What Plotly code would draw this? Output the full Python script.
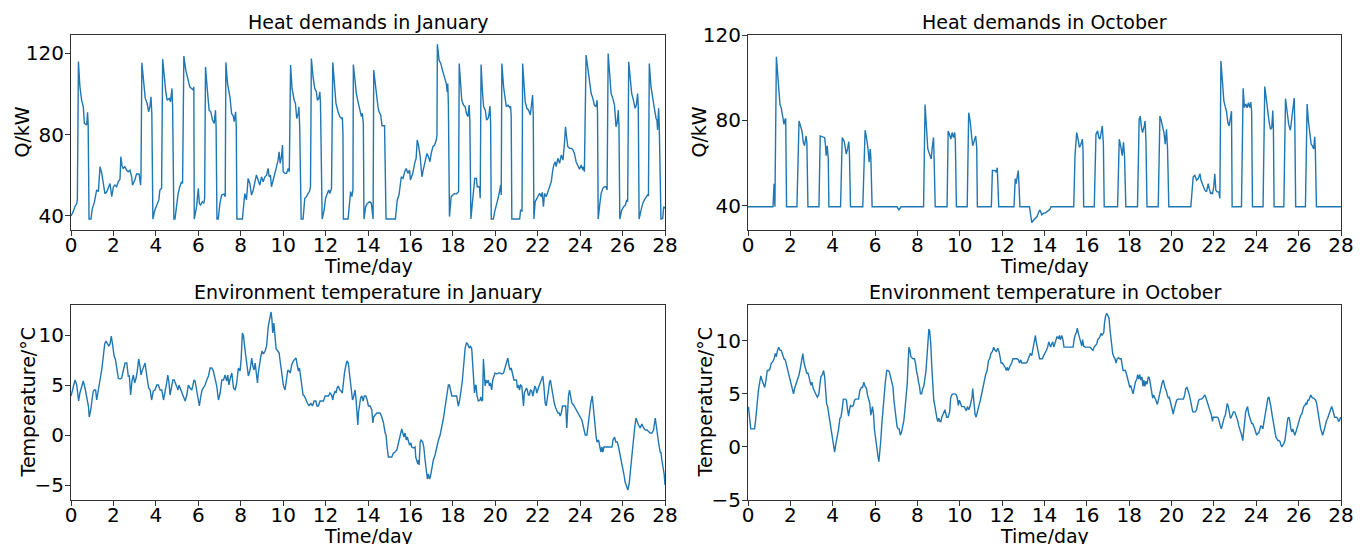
import plotly.graph_objects as go

# ---------------- data (time in days, values) ----------------
jan_heat = [(0.0, 40), (0.1, 42), (0.2, 45), (0.27, 46), (0.3, 48), (0.35, 116), (0.42, 103.6), (0.5, 97), (0.58, 93.8), (0.63, 85.6), (0.74, 84.8), (0.78, 91), (0.81, 84.8), (0.85, 38.5), (0.94, 38.5), (1.0, 43.4), (1.1, 46.7), (1.21, 52.8), (1.29, 52), (1.37, 64.3), (1.45, 61), (1.52, 56.9), (1.6, 51), (1.68, 51.8), (1.76, 54.4), (1.84, 56), (1.92, 49.5), (2.0, 54.4), (2.07, 55.2), (2.15, 54.4), (2.23, 56.9), (2.31, 58.2), (2.35, 69.2), (2.4, 65), (2.46, 63.4), (2.54, 64.3), (2.62, 62.6), (2.7, 61.8), (2.78, 62.6), (2.86, 59.3), (2.9, 55.2), (3.01, 57.7), (3.09, 60.7), (3.21, 60.7), (3.28, 55.2), (3.3, 60.2), (3.34, 115.4), (3.44, 105), (3.5, 97.9), (3.59, 95.4), (3.66, 91.3), (3.72, 93.8), (3.77, 98.7), (3.81, 90.5), (3.86, 38.5), (3.95, 42.8), (4.03, 45.4), (4.14, 47.9), (4.19, 52.8), (4.27, 53.6), (4.32, 117.2), (4.39, 108.5), (4.47, 101), (4.53, 97), (4.63, 97.9), (4.69, 96.2), (4.76, 102.8), (4.79, 93.8), (4.85, 38.5), (4.9, 38.5), (4.98, 46.2), (5.05, 51), (5.13, 54.4), (5.21, 56.9), (5.26, 56), (5.32, 118.7), (5.41, 111.8), (5.53, 106), (5.6, 103.6), (5.68, 102.8), (5.76, 102), (5.79, 103.6), (5.81, 38.5), (5.92, 44.6), (6.0, 53.6), (6.05, 46.2), (6.11, 45.4), (6.19, 47), (6.26, 46.2), (6.3, 48.7), (6.34, 113.4), (6.42, 102.8), (6.51, 92), (6.59, 91.3), (6.67, 87.2), (6.75, 85.6), (6.81, 92.1), (6.84, 84), (6.88, 38.5), (6.94, 38.5), (7.02, 46.2), (7.1, 50.3), (7.21, 50.8), (7.27, 49.5), (7.3, 115.6), (7.38, 105), (7.49, 98.7), (7.57, 90.5), (7.65, 89.2), (7.69, 86.4), (7.76, 91.3), (7.79, 84), (7.82, 38.5), (8.08, 38.5), (8.19, 51.1), (8.27, 47.9), (8.35, 58.5), (8.43, 56), (8.51, 50.3), (8.59, 52.8), (8.67, 56.1), (8.74, 60.2), (8.82, 57.7), (8.9, 55.2), (8.98, 59.3), (9.06, 56.9), (9.14, 59.3), (9.22, 60.1), (9.29, 63.4), (9.34, 59.3), (9.4, 60.1), (9.45, 54.4), (9.53, 57.7), (9.61, 61.8), (9.69, 64.3), (9.76, 67.5), (9.81, 71.6), (9.86, 65.9), (9.92, 69.2), (9.97, 74.9), (10.0, 61.8), (10.08, 61), (10.16, 61), (10.24, 63.4), (10.29, 61.8), (10.35, 114.3), (10.42, 102.8), (10.52, 97), (10.58, 95.4), (10.64, 88), (10.71, 90.5), (10.74, 93.8), (10.78, 84), (10.85, 38.5), (10.94, 38.5), (11.02, 48.7), (11.1, 49.5), (11.18, 51.1), (11.25, 52.3), (11.29, 54.4), (11.33, 117.5), (11.41, 108.5), (11.49, 102.8), (11.57, 101.1), (11.61, 97), (11.68, 97.9), (11.73, 101.1), (11.76, 95.4), (11.84, 38.5), (11.93, 42.8), (12.0, 48.7), (12.08, 51.1), (12.15, 52.8), (12.2, 51.1), (12.24, 52.8), (12.28, 53.6), (12.34, 115.6), (12.42, 102), (12.49, 95.4), (12.59, 91.3), (12.67, 88.9), (12.75, 88), (12.79, 88.5), (12.82, 80.7), (12.84, 38.5), (13.06, 38.5), (13.14, 47.9), (13.18, 52), (13.24, 49.5), (13.29, 52.8), (13.31, 114.6), (13.37, 106.9), (13.45, 100.3), (13.53, 96.2), (13.61, 92.1), (13.69, 88.9), (13.73, 90.5), (13.78, 85.6), (13.81, 38.5), (13.89, 44.6), (13.97, 46.2), (14.08, 47), (14.16, 46.2), (14.24, 38.5), (14.27, 111.8), (14.35, 103.6), (14.42, 95.4), (14.47, 93.8), (14.52, 91.3), (14.6, 89.7), (14.66, 84.4), (14.78, 84.4), (14.85, 38.5), (15.29, 38.5), (15.38, 47.9), (15.46, 50.3), (15.57, 59.3), (15.65, 58.5), (15.73, 61.8), (15.8, 63.4), (15.88, 61), (15.96, 62.6), (16.0, 57.7), (16.11, 61), (16.2, 65.9), (16.27, 68.4), (16.32, 77.4), (16.38, 74.9), (16.46, 69.2), (16.54, 59.3), (16.62, 63.4), (16.7, 67.5), (16.78, 70.8), (16.85, 69.2), (16.92, 66.7), (16.98, 70.8), (17.06, 74.1), (17.14, 74.9), (17.22, 77.4), (17.25, 79.8), (17.27, 124.6), (17.35, 116.7), (17.43, 115.1), (17.51, 111.8), (17.61, 108.5), (17.69, 105.2), (17.73, 101.1), (17.76, 105.2), (17.79, 94.6), (17.84, 39.7), (17.92, 49.5), (18.0, 50.3), (18.08, 51.1), (18.16, 50.8), (18.24, 51.6), (18.27, 52), (18.3, 115.1), (18.36, 106.9), (18.42, 97), (18.5, 94.6), (18.58, 93.8), (18.64, 90.5), (18.71, 88.9), (18.77, 94.6), (18.8, 87.2), (18.85, 38.5), (18.92, 45.4), (18.98, 52.8), (19.03, 58.5), (19.11, 58.5), (19.15, 54.4), (19.23, 54.4), (19.26, 53.6), (19.29, 48.7), (19.33, 114.6), (19.39, 102), (19.45, 93.8), (19.53, 92.1), (19.59, 87.2), (19.66, 88), (19.7, 89.7), (19.75, 94.1), (19.78, 85.6), (19.81, 38.5), (19.91, 38.5), (19.97, 42), (20.05, 46.2), (20.13, 48.7), (20.2, 52), (20.25, 55.2), (20.28, 50.3), (20.31, 115.1), (20.39, 103.6), (20.47, 97), (20.52, 93.8), (20.6, 94.6), (20.68, 93.4), (20.72, 94.1), (20.75, 88.9), (20.78, 38.5), (21.15, 38.5), (21.19, 42.8), (21.26, 42.5), (21.29, 115.1), (21.35, 102), (21.41, 96.2), (21.49, 93), (21.57, 92.1), (21.65, 89.7), (21.7, 93.8), (21.76, 99.5), (21.79, 88.9), (21.82, 38.5), (21.88, 47), (21.98, 48.7), (22.09, 51.1), (22.17, 49.5), (22.21, 51.6), (22.27, 44.6), (22.32, 51.1), (22.4, 49.5), (22.48, 52), (22.56, 54.4), (22.64, 56.9), (22.71, 62.6), (22.76, 65.1), (22.83, 66.7), (22.87, 64.3), (22.95, 68.4), (23.03, 65.9), (23.11, 70), (23.19, 67.5), (23.26, 75.7), (23.31, 83.9), (23.37, 78.1), (23.42, 74.1), (23.5, 73.3), (23.58, 73.3), (23.65, 72.8), (23.73, 70.8), (23.81, 66.7), (23.89, 64.3), (23.97, 63), (24.05, 65.1), (24.13, 62.6), (24.17, 64.3), (24.2, 61.8), (24.28, 119.2), (24.36, 111.8), (24.44, 105.2), (24.52, 100.3), (24.6, 97.9), (24.67, 94.6), (24.75, 93.8), (24.8, 97), (24.82, 90.5), (24.85, 38.5), (24.93, 46.2), (24.99, 51.1), (25.07, 53.6), (25.15, 54.4), (25.23, 54.4), (25.27, 52.8), (25.32, 120), (25.4, 108.5), (25.46, 100.3), (25.54, 97.9), (25.62, 94.6), (25.69, 83.9), (25.74, 85.6), (25.8, 92.1), (25.83, 83.9), (25.87, 38.5), (25.96, 42.8), (26.05, 44.6), (26.13, 45.4), (26.2, 47.9), (26.24, 47), (26.29, 115.9), (26.35, 106.9), (26.43, 100.3), (26.51, 97), (26.59, 93), (26.65, 94.6), (26.71, 100.3), (26.74, 93.8), (26.78, 38.5), (26.87, 42.8), (26.95, 46.2), (27.03, 47.9), (27.11, 49.5), (27.17, 50.3), (27.22, 49.8), (27.26, 115.1), (27.34, 103.6), (27.42, 97), (27.5, 93), (27.58, 88), (27.62, 87.2), (27.65, 82.3), (27.7, 93), (27.73, 84), (27.81, 38.5), (27.89, 38.8), (27.94, 44.6), (28.0, 43.8)]

oct_heat = [(0, 39.5), (1.18, 39.5), (1.23, 50.3), (1.27, 39.5), (1.34, 109.8), (1.38, 103.6), (1.45, 95.1), (1.51, 87.4), (1.57, 85.9), (1.65, 81.2), (1.7, 78.1), (1.75, 80.5), (1.78, 80.9), (1.82, 39.5), (2.31, 39.5), (2.41, 79.7), (2.48, 77.4), (2.55, 75), (2.61, 69.7), (2.67, 68.1), (2.74, 72.7), (2.78, 69.7), (2.83, 39.5), (3.35, 39.5), (3.41, 72.7), (3.54, 72.2), (3.62, 71.9), (3.66, 68.1), (3.69, 63.5), (3.74, 68.1), (3.79, 61.9), (3.82, 39.5), (4.37, 39.5), (4.45, 72), (4.53, 70.5), (4.58, 68.1), (4.64, 64.2), (4.7, 66.6), (4.76, 70), (4.79, 64.2), (4.84, 39.5), (5.42, 39.5), (5.53, 75.4), (5.58, 72.7), (5.66, 67.3), (5.72, 60.4), (5.77, 66.6), (5.8, 62.8), (5.86, 39.5), (7.04, 39.5), (7.12, 38), (7.23, 39.5), (8.29, 39.5), (8.36, 87.4), (8.41, 80.5), (8.49, 66.6), (8.57, 64.2), (8.65, 61.9), (8.7, 67.3), (8.76, 72), (8.79, 61.2), (8.84, 39.5), (9.4, 39.5), (9.45, 75), (9.51, 73.5), (9.58, 71.2), (9.64, 74.3), (9.7, 72), (9.76, 74.3), (9.79, 70.4), (9.84, 39.5), (10.35, 39.5), (10.42, 83.6), (10.49, 79.7), (10.55, 73.5), (10.61, 68.1), (10.68, 70.4), (10.75, 72.7), (10.8, 67.3), (10.83, 39.5), (11.49, 39.5), (11.54, 56.5), (11.66, 56.5), (11.73, 55.7), (11.77, 57.8), (11.8, 50.3), (11.84, 39.5), (12.56, 39.5), (12.62, 52.7), (12.66, 50.3), (12.71, 53.4), (12.76, 56.5), (12.8, 48.8), (12.84, 39.5), (13.29, 39.5), (13.34, 35.7), (13.4, 32.1), (13.49, 33.3), (13.56, 34.1), (13.65, 34.9), (13.72, 36.8), (13.77, 38), (13.82, 37.2), (13.87, 35.7), (13.96, 36.5), (14.03, 36.5), (14.12, 37.2), (14.19, 38), (14.26, 38.3), (14.31, 39.5), (15.38, 39.5), (15.44, 63.5), (15.52, 74.3), (15.57, 72), (15.65, 67.3), (15.72, 68.8), (15.79, 71.2), (15.82, 65.8), (15.85, 39.5), (16.35, 39.5), (16.43, 73.5), (16.51, 75.1), (16.56, 72), (16.62, 71.2), (16.69, 74.3), (16.73, 77.4), (16.78, 68.9), (16.82, 39.5), (17.45, 39.5), (17.53, 71.2), (17.61, 67.3), (17.67, 63.5), (17.73, 69.7), (17.78, 62.8), (17.84, 39.5), (18.39, 39.5), (18.47, 80.5), (18.52, 82), (18.58, 76.6), (18.63, 74.3), (18.71, 77.4), (18.75, 79.7), (18.79, 70.4), (18.84, 39.5), (19.37, 39.5), (19.45, 82), (19.5, 80.5), (19.58, 77.4), (19.64, 74.3), (19.7, 68.9), (19.76, 75.8), (19.81, 66.6), (19.87, 39.5), (20.91, 39.5), (21.02, 53.4), (21.1, 54.2), (21.18, 51.9), (21.26, 52.7), (21.34, 55), (21.39, 51.9), (21.44, 50.3), (21.49, 48.8), (21.57, 47.3), (21.65, 46.5), (21.73, 50.3), (21.78, 48), (21.84, 45.7), (21.89, 46), (21.93, 45.4), (21.99, 48.8), (22.04, 55), (22.09, 47.3), (22.15, 46.5), (22.23, 46.5), (22.28, 43.4), (22.33, 107.8), (22.41, 99), (22.47, 89), (22.53, 86.7), (22.59, 84.3), (22.66, 78.9), (22.72, 77.4), (22.78, 81.2), (22.83, 84.3), (22.86, 39.5), (23.3, 39.5), (23.38, 95.1), (23.44, 86), (23.51, 87.7), (23.57, 85.9), (23.63, 88.3), (23.69, 86), (23.74, 88.6), (23.78, 84.3), (23.82, 39.5), (24.32, 39.5), (24.4, 95.9), (24.48, 89), (24.54, 83.6), (24.61, 79), (24.67, 75.8), (24.73, 76.6), (24.78, 84.6), (24.81, 75.1), (24.84, 39.5), (25.3, 39.5), (25.38, 90.2), (25.46, 84.3), (25.53, 78.1), (25.61, 75.4), (25.68, 80.5), (25.74, 85.9), (25.79, 90.5), (25.82, 78.1), (25.86, 39.5), (26.32, 39.5), (26.4, 87.7), (26.46, 79.7), (26.53, 72), (26.59, 68.9), (26.65, 68.1), (26.71, 66.6), (26.76, 72.3), (26.79, 65.8), (26.84, 39.5), (28, 39.5)]

jan_temp = [(0.0, 3.9), (0.11, 4.7), (0.19, 5.5), (0.27, 5.0), (0.31, 4.2), (0.36, 3.4), (0.42, 4.2), (0.5, 4.8), (0.58, 5.4), (0.66, 4.7), (0.71, 4.0), (0.77, 3.5), (0.82, 2.9), (0.86, 1.8), (0.93, 2.5), (0.99, 3.5), (1.05, 4.4), (1.1, 4.5), (1.16, 4.5), (1.21, 3.5), (1.27, 4.4), (1.34, 5.0), (1.4, 5.9), (1.46, 6.7), (1.53, 7.9), (1.59, 9.1), (1.65, 9.4), (1.71, 9.2), (1.78, 8.9), (1.84, 9.1), (1.9, 9.9), (1.97, 8.9), (2.03, 7.9), (2.09, 7.6), (2.15, 6.7), (2.23, 5.7), (2.31, 5.6), (2.39, 5.7), (2.47, 6.5), (2.55, 7.2), (2.63, 7.2), (2.7, 5.9), (2.75, 5.9), (2.81, 4.0), (2.88, 5.5), (2.94, 6.0), (3.0, 5.2), (3.07, 5.7), (3.13, 6.5), (3.19, 7.6), (3.25, 6.9), (3.3, 6.0), (3.35, 6.4), (3.41, 6.7), (3.49, 7.2), (3.54, 6.4), (3.6, 5.7), (3.66, 4.7), (3.73, 4.5), (3.8, 3.5), (3.88, 4.4), (3.96, 4.5), (4.04, 5.0), (4.12, 5.0), (4.2, 4.5), (4.28, 4.5), (4.36, 3.5), (4.43, 4.2), (4.51, 5.2), (4.56, 6.0), (4.61, 5.4), (4.67, 4.0), (4.73, 4.7), (4.8, 5.5), (4.86, 5.5), (4.92, 5.2), (4.98, 5.0), (5.05, 4.5), (5.09, 5.0), (5.14, 4.7), (5.22, 4.2), (5.3, 3.9), (5.38, 3.4), (5.46, 4.0), (5.53, 5.0), (5.61, 4.7), (5.69, 4.5), (5.74, 4.9), (5.8, 5.5), (5.85, 5.4), (5.93, 4.2), (5.99, 3.7), (6.05, 2.9), (6.12, 3.9), (6.18, 4.5), (6.24, 4.7), (6.32, 5.0), (6.4, 5.5), (6.48, 5.9), (6.56, 6.7), (6.64, 6.7), (6.71, 6.4), (6.79, 5.7), (6.87, 4.9), (6.95, 3.5), (7.03, 4.2), (7.11, 5.5), (7.19, 5.5), (7.26, 6.0), (7.34, 5.4), (7.39, 6.0), (7.44, 5.0), (7.5, 5.6), (7.58, 6.2), (7.66, 4.7), (7.74, 4.5), (7.81, 5.2), (7.89, 6.7), (7.97, 6.4), (8.02, 7.6), (8.08, 10.2), (8.13, 9.9), (8.21, 8.4), (8.29, 6.9), (8.36, 5.9), (8.44, 6.5), (8.52, 7.7), (8.57, 6.9), (8.63, 6.5), (8.68, 7.2), (8.72, 6.4), (8.79, 5.2), (8.83, 6.2), (8.88, 7.2), (8.95, 7.9), (9.01, 8.4), (9.07, 8.1), (9.15, 8.4), (9.22, 8.9), (9.3, 10.9), (9.38, 11.9), (9.43, 12.3), (9.47, 11.6), (9.51, 10.2), (9.56, 11.2), (9.6, 10.2), (9.67, 8.6), (9.75, 8.4), (9.81, 8.2), (9.87, 7.2), (9.93, 6.2), (10.01, 5.0), (10.09, 4.5), (10.15, 5.3), (10.22, 6.5), (10.28, 6.4), (10.34, 6.2), (10.4, 7.0), (10.48, 7.4), (10.56, 7.6), (10.61, 7.7), (10.66, 7.0), (10.72, 6.4), (10.77, 6.7), (10.81, 6.0), (10.88, 5.0), (10.94, 4.0), (11.0, 3.9), (11.07, 3.5), (11.14, 3.2), (11.22, 2.9), (11.3, 3.2), (11.38, 2.9), (11.46, 3.4), (11.54, 3.4), (11.6, 2.9), (11.66, 2.9), (11.74, 3.4), (11.82, 3.4), (11.9, 3.4), (11.98, 3.9), (12.06, 3.9), (12.14, 3.9), (12.21, 4.2), (12.29, 4.0), (12.34, 3.5), (12.38, 4.0), (12.45, 4.4), (12.5, 4.2), (12.54, 4.7), (12.6, 4.9), (12.67, 4.5), (12.73, 4.4), (12.79, 4.2), (12.84, 5.5), (12.89, 6.2), (12.95, 6.9), (13.01, 7.4), (13.07, 7.2), (13.12, 6.2), (13.17, 4.9), (13.22, 4.0), (13.27, 3.5), (13.31, 3.7), (13.39, 4.5), (13.44, 3.5), (13.47, 2.2), (13.52, 1.0), (13.55, 2.2), (13.6, 3.2), (13.65, 3.7), (13.71, 3.9), (13.77, 3.4), (13.83, 3.9), (13.9, 3.9), (13.96, 3.5), (14.02, 2.9), (14.1, 2.9), (14.18, 2.5), (14.23, 1.2), (14.27, 1.8), (14.34, 2.0), (14.42, 2.2), (14.5, 2.2), (14.57, 2.2), (14.65, 1.8), (14.73, 1.2), (14.81, 0.2), (14.85, 0.0), (14.9, -1.2), (14.96, -2.2), (15.04, -2.2), (15.12, -2.2), (15.2, -1.8), (15.28, -1.7), (15.36, -1.5), (15.44, -0.8), (15.48, -0.5), (15.53, 0.2), (15.59, 0.6), (15.64, 0.2), (15.69, -0.2), (15.75, 0.2), (15.8, -0.5), (15.85, -0.2), (15.92, -0.8), (15.96, -1.0), (16.02, -0.8), (16.06, -1.2), (16.14, -1.3), (16.22, -1.2), (16.25, -2.2), (16.3, -2.5), (16.35, -2.9), (16.38, -2.5), (16.41, -3.0), (16.46, -0.7), (16.5, -0.5), (16.58, -0.7), (16.63, -1.2), (16.69, -2.5), (16.76, -3.5), (16.8, -4.4), (16.85, -3.9), (16.9, -4.4), (16.94, -4.2), (17.0, -3.5), (17.08, -2.5), (17.16, -2.0), (17.24, -1.2), (17.32, -0.5), (17.4, 0.0), (17.48, 0.7), (17.56, 1.7), (17.64, 2.9), (17.72, 3.9), (17.79, 5.0), (17.84, 5.0), (17.89, 4.5), (17.95, 3.9), (18.03, 3.9), (18.1, 3.9), (18.18, 3.9), (18.23, 3.2), (18.26, 2.9), (18.31, 3.4), (18.36, 3.9), (18.39, 4.5), (18.45, 5.5), (18.51, 7.0), (18.58, 8.7), (18.64, 9.2), (18.7, 9.1), (18.77, 8.7), (18.83, 8.9), (18.89, 8.6), (18.97, 5.9), (19.02, 4.2), (19.06, 4.9), (19.09, 5.0), (19.14, 3.9), (19.2, 3.4), (19.28, 3.5), (19.32, 3.8), (19.36, 3.4), (19.4, 3.5), (19.44, 7.6), (19.47, 6.2), (19.52, 4.9), (19.56, 5.5), (19.61, 5.2), (19.67, 5.5), (19.72, 4.9), (19.77, 5.2), (19.83, 4.5), (19.88, 5.5), (19.94, 6.0), (19.99, 6.2), (20.07, 6.1), (20.15, 6.2), (20.23, 6.2), (20.31, 6.1), (20.39, 6.2), (20.43, 6.5), (20.5, 7.2), (20.56, 7.6), (20.59, 7.7), (20.65, 6.9), (20.7, 6.5), (20.75, 6.7), (20.81, 6.0), (20.88, 5.5), (20.94, 5.5), (21.0, 5.5), (21.04, 4.7), (21.09, 5.0), (21.14, 4.5), (21.19, 5.0), (21.25, 4.9), (21.28, 4.2), (21.33, 2.9), (21.37, 4.2), (21.42, 4.5), (21.47, 4.7), (21.51, 4.5), (21.56, 4.0), (21.61, 4.0), (21.66, 4.5), (21.72, 4.4), (21.77, 3.9), (21.82, 4.4), (21.86, 4.9), (21.91, 4.7), (21.96, 4.2), (22.03, 4.7), (22.11, 5.2), (22.19, 5.7), (22.24, 5.9), (22.29, 4.9), (22.35, 3.2), (22.4, 2.9), (22.45, 3.5), (22.51, 4.5), (22.55, 5.2), (22.6, 5.5), (22.66, 4.7), (22.74, 3.5), (22.78, 3.2), (22.85, 2.7), (22.9, 2.5), (22.95, 2.2), (23.01, 2.2), (23.06, 1.9), (23.11, 2.2), (23.17, 2.9), (23.25, 2.9), (23.32, 2.9), (23.37, 0.7), (23.4, 2.5), (23.45, 3.9), (23.5, 4.5), (23.55, 3.9), (23.61, 3.2), (23.69, 3.0), (23.76, 2.7), (23.84, 2.4), (23.92, 2.0), (24.0, 1.8), (24.08, 1.5), (24.16, 0.8), (24.24, 0.0), (24.32, 0.0), (24.39, 1.2), (24.44, 2.5), (24.5, 3.2), (24.57, 3.9), (24.6, 3.2), (24.65, 1.8), (24.71, 0.7), (24.76, -0.3), (24.8, -0.7), (24.87, -0.5), (24.93, -1.2), (24.98, -1.7), (25.02, -1.2), (25.07, -1.7), (25.12, -1.2), (25.2, -1.2), (25.28, -1.2), (25.36, -1.2), (25.44, -1.2), (25.5, -1.2), (25.55, -0.5), (25.62, -0.2), (25.68, -0.7), (25.75, -0.7), (25.81, -1.2), (25.87, -1.8), (25.93, -2.5), (25.99, -3.0), (26.06, -3.9), (26.12, -4.7), (26.19, -5.2), (26.25, -5.5), (26.31, -4.9), (26.37, -3.4), (26.44, -2.2), (26.5, -0.8), (26.56, 0.5), (26.63, 1.7), (26.69, 1.3), (26.75, 1.0), (26.83, 0.7), (26.91, 1.1), (26.99, 0.7), (27.07, 0.5), (27.15, 0.5), (27.22, 0.4), (27.3, 0.2), (27.38, 0.2), (27.46, 0.5), (27.54, 1.7), (27.59, 0.8), (27.65, -0.2), (27.7, -0.8), (27.78, -1.8), (27.81, -1.7), (27.85, -2.5), (27.9, -3.2), (27.96, -3.9), (28.0, -5.0)]

oct_temp = [(0.02, 3.8), (0.06, 2.8), (0.13, 1.7), (0.2, 1.7), (0.25, 1.7), (0.31, 1.7), (0.36, 2.5), (0.41, 3.8), (0.49, 5.3), (0.57, 6.3), (0.61, 6.7), (0.66, 6.3), (0.72, 6.0), (0.79, 5.6), (0.85, 6.3), (0.91, 7.2), (0.98, 7.2), (1.04, 7.4), (1.1, 7.9), (1.16, 8.0), (1.23, 8.3), (1.29, 8.8), (1.34, 8.5), (1.38, 9.0), (1.45, 9.4), (1.51, 9.1), (1.57, 9.1), (1.64, 8.6), (1.7, 8.3), (1.76, 8.2), (1.82, 7.7), (1.89, 7.2), (1.95, 6.9), (2.01, 6.4), (2.06, 5.8), (2.11, 5.5), (2.15, 5.0), (2.2, 5.5), (2.25, 5.8), (2.3, 6.0), (2.36, 6.3), (2.41, 6.8), (2.45, 7.2), (2.5, 7.7), (2.55, 8.2), (2.59, 8.8), (2.64, 8.0), (2.69, 7.4), (2.74, 7.2), (2.78, 6.9), (2.83, 7.0), (2.88, 6.6), (2.92, 6.1), (2.97, 5.8), (3.02, 6.1), (3.08, 5.5), (3.15, 5.2), (3.21, 5.0), (3.27, 4.7), (3.34, 4.9), (3.4, 5.7), (3.44, 6.6), (3.51, 6.8), (3.57, 7.2), (3.62, 6.6), (3.66, 5.0), (3.71, 4.1), (3.76, 3.8), (3.81, 3.1), (3.87, 2.5), (3.93, 1.6), (3.99, 0.8), (4.04, 0.3), (4.09, -0.5), (4.15, 0.3), (4.21, 0.9), (4.28, 1.7), (4.34, 2.7), (4.39, 2.8), (4.45, 3.6), (4.5, 4.5), (4.58, 4.5), (4.65, 4.4), (4.7, 3.5), (4.75, 2.9), (4.79, 3.5), (4.84, 3.9), (4.91, 3.8), (4.97, 3.9), (5.03, 4.4), (5.09, 4.5), (5.16, 4.5), (5.22, 4.5), (5.28, 5.3), (5.35, 5.6), (5.41, 5.6), (5.47, 6.1), (5.53, 5.7), (5.6, 5.5), (5.64, 4.9), (5.69, 4.5), (5.75, 4.1), (5.8, 3.0), (5.85, 3.5), (5.88, 3.8), (5.93, 3.0), (5.97, 1.6), (6.04, 0.6), (6.09, -0.5), (6.13, -0.8), (6.18, -1.4), (6.23, -0.6), (6.27, 0.6), (6.32, 2.2), (6.37, 3.5), (6.42, 4.7), (6.48, 6.0), (6.55, 7.2), (6.61, 7.2), (6.67, 7.1), (6.73, 6.6), (6.79, 6.3), (6.84, 5.7), (6.89, 4.4), (6.94, 3.5), (6.99, 2.5), (7.04, 1.9), (7.09, 1.7), (7.14, 1.7), (7.19, 1.1), (7.25, 1.4), (7.31, 2.0), (7.36, 2.5), (7.41, 3.5), (7.45, 4.4), (7.52, 6.0), (7.57, 8.3), (7.6, 9.4), (7.65, 9.1), (7.69, 8.5), (7.74, 8.4), (7.8, 8.3), (7.86, 8.3), (7.91, 7.9), (7.96, 7.1), (8.0, 6.8), (8.05, 6.1), (8.1, 5.7), (8.14, 5.0), (8.2, 5.0), (8.25, 5.5), (8.3, 5.7), (8.35, 6.4), (8.4, 7.1), (8.44, 8.2), (8.49, 10.1), (8.54, 11.1), (8.58, 10.9), (8.63, 9.7), (8.68, 7.5), (8.73, 5.3), (8.77, 4.4), (8.82, 3.9), (8.87, 3.1), (8.92, 2.7), (8.96, 2.4), (9.01, 2.7), (9.06, 2.4), (9.11, 2.4), (9.15, 2.8), (9.2, 3.0), (9.25, 3.3), (9.3, 3.5), (9.38, 2.8), (9.45, 2.8), (9.52, 3.3), (9.57, 4.6), (9.62, 4.9), (9.69, 5.0), (9.77, 5.0), (9.84, 4.9), (9.9, 4.4), (9.93, 3.9), (9.98, 4.4), (10.03, 4.1), (10.09, 3.8), (10.15, 3.8), (10.21, 3.8), (10.26, 3.6), (10.31, 3.4), (10.36, 3.8), (10.42, 3.5), (10.48, 3.8), (10.53, 4.4), (10.58, 4.7), (10.61, 5.5), (10.66, 4.4), (10.72, 3.1), (10.77, 2.8), (10.82, 3.3), (10.88, 3.9), (10.93, 4.1), (10.97, 4.4), (11.03, 5.0), (11.1, 5.6), (11.16, 6.3), (11.22, 6.8), (11.29, 7.2), (11.35, 8.1), (11.41, 8.3), (11.47, 8.8), (11.54, 9.0), (11.6, 9.4), (11.66, 9.1), (11.73, 9.0), (11.79, 9.3), (11.85, 9.0), (11.9, 8.5), (11.95, 7.9), (12.01, 7.9), (12.08, 7.7), (12.14, 7.5), (12.2, 7.2), (12.25, 7.5), (12.29, 7.2), (12.34, 7.5), (12.39, 7.7), (12.45, 7.9), (12.51, 8.3), (12.57, 8.3), (12.64, 8.3), (12.7, 8.3), (12.77, 8.2), (12.82, 7.9), (12.88, 8.2), (12.93, 7.9), (12.99, 7.9), (13.05, 7.9), (13.12, 7.9), (13.18, 8.0), (13.24, 8.3), (13.29, 8.5), (13.33, 8.8), (13.4, 8.6), (13.46, 9.4), (13.52, 10.1), (13.57, 10.5), (13.61, 9.9), (13.66, 9.4), (13.71, 8.8), (13.77, 8.3), (13.84, 8.3), (13.9, 8.3), (13.96, 8.6), (14.02, 8.8), (14.09, 9.1), (14.15, 9.4), (14.2, 9.9), (14.24, 9.7), (14.29, 9.4), (14.34, 9.7), (14.39, 9.9), (14.44, 9.4), (14.5, 9.9), (14.54, 10.1), (14.59, 10.4), (14.66, 10.2), (14.7, 10.5), (14.75, 10.1), (14.81, 10.5), (14.87, 10.1), (14.92, 9.4), (14.99, 9.4), (15.05, 9.4), (15.13, 9.4), (15.21, 9.4), (15.29, 9.4), (15.35, 9.4), (15.4, 10.1), (15.44, 10.5), (15.51, 10.8), (15.55, 11.2), (15.6, 10.7), (15.66, 10.2), (15.71, 9.7), (15.76, 9.5), (15.8, 10.1), (15.85, 9.5), (15.91, 9.4), (15.99, 9.4), (16.07, 9.4), (16.15, 9.4), (16.23, 9.2), (16.29, 9.1), (16.34, 9.4), (16.4, 9.6), (16.47, 9.7), (16.51, 10.1), (16.57, 10.2), (16.62, 10.4), (16.67, 10.7), (16.72, 10.5), (16.8, 10.8), (16.83, 11.6), (16.88, 12.3), (16.94, 12.6), (16.99, 12.3), (17.05, 12.1), (17.08, 11.3), (17.13, 10.4), (17.18, 9.1), (17.22, 8.8), (17.27, 8.5), (17.33, 8.3), (17.38, 7.9), (17.43, 8.3), (17.49, 8.4), (17.55, 8.3), (17.62, 8.3), (17.66, 7.5), (17.71, 7.2), (17.77, 7.2), (17.82, 7.2), (17.88, 6.8), (17.93, 6.3), (17.98, 6.0), (18.03, 5.6), (18.07, 5.8), (18.12, 5.3), (18.18, 5.0), (18.25, 5.7), (18.29, 6.1), (18.36, 6.4), (18.4, 6.8), (18.45, 6.4), (18.5, 6.8), (18.55, 6.3), (18.6, 6.6), (18.65, 5.7), (18.69, 6.3), (18.74, 5.7), (18.79, 6.2), (18.84, 5.9), (18.9, 6.6), (18.95, 6.5), (19.01, 5.8), (19.06, 5.0), (19.11, 4.6), (19.15, 4.9), (19.2, 4.7), (19.26, 4.4), (19.33, 4.0), (19.37, 4.4), (19.42, 4.7), (19.48, 5.3), (19.55, 6.0), (19.61, 6.3), (19.65, 5.8), (19.7, 5.5), (19.75, 5.3), (19.8, 4.9), (19.84, 4.6), (19.89, 4.7), (19.94, 4.2), (19.99, 3.9), (20.03, 3.5), (20.08, 3.1), (20.13, 3.6), (20.18, 3.9), (20.24, 4.4), (20.3, 4.5), (20.37, 4.5), (20.43, 4.5), (20.49, 4.5), (20.56, 4.5), (20.62, 4.9), (20.67, 5.5), (20.73, 5.6), (20.79, 5.3), (20.84, 4.9), (20.89, 4.4), (20.95, 3.8), (21.0, 3.3), (21.06, 3.3), (21.12, 3.3), (21.18, 3.5), (21.23, 3.9), (21.28, 4.4), (21.35, 4.5), (21.41, 4.5), (21.47, 4.6), (21.52, 4.7), (21.57, 4.9), (21.61, 4.7), (21.66, 4.4), (21.72, 4.1), (21.79, 3.6), (21.83, 3.3), (21.88, 3.0), (21.93, 2.4), (21.97, 2.8), (22.02, 2.8), (22.07, 2.8), (22.12, 2.8), (22.16, 2.8), (22.21, 2.7), (22.26, 2.2), (22.3, 2.0), (22.35, 1.7), (22.4, 2.2), (22.44, 2.5), (22.49, 2.8), (22.54, 3.0), (22.59, 3.5), (22.63, 4.1), (22.68, 3.8), (22.73, 3.1), (22.78, 2.7), (22.82, 2.8), (22.87, 3.0), (22.92, 3.3), (22.98, 3.3), (23.02, 3.1), (23.07, 2.7), (23.12, 2.5), (23.17, 2.0), (23.22, 1.7), (23.27, 1.3), (23.31, 1.1), (23.36, 0.6), (23.41, 1.6), (23.45, 2.5), (23.5, 3.3), (23.55, 3.6), (23.59, 3.8), (23.64, 3.1), (23.69, 2.8), (23.74, 2.4), (23.78, 2.2), (23.83, 2.2), (23.88, 2.0), (23.93, 1.7), (23.97, 1.4), (24.02, 1.1), (24.07, 1.3), (24.12, 1.3), (24.16, 1.6), (24.21, 2.0), (24.26, 1.9), (24.31, 1.7), (24.35, 2.2), (24.4, 2.8), (24.45, 3.5), (24.5, 4.1), (24.55, 4.6), (24.6, 4.7), (24.64, 4.4), (24.69, 3.8), (24.74, 3.1), (24.79, 2.5), (24.83, 2.0), (24.88, 1.4), (24.93, 0.9), (24.97, 0.8), (25.02, 0.6), (25.07, 0.6), (25.12, 0.5), (25.16, 0.2), (25.21, 0.0), (25.26, 0.2), (25.3, 0.3), (25.35, 0.6), (25.39, 1.3), (25.44, 1.9), (25.49, 2.7), (25.54, 2.8), (25.58, 2.5), (25.63, 1.7), (25.68, 1.4), (25.72, 1.7), (25.77, 1.3), (25.82, 1.1), (25.87, 1.4), (25.91, 1.7), (25.96, 2.2), (26.0, 2.5), (26.05, 2.8), (26.1, 3.0), (26.15, 3.1), (26.2, 3.5), (26.24, 3.8), (26.29, 3.9), (26.34, 4.1), (26.38, 4.0), (26.43, 4.4), (26.48, 4.4), (26.52, 4.6), (26.57, 4.9), (26.62, 4.7), (26.66, 4.6), (26.71, 4.6), (26.76, 4.5), (26.8, 4.4), (26.85, 4.1), (26.89, 3.5), (26.94, 2.8), (26.99, 2.0), (27.04, 1.7), (27.09, 1.4), (27.13, 1.1), (27.18, 1.4), (27.23, 1.9), (27.28, 2.2), (27.32, 2.5), (27.37, 2.7), (27.42, 3.0), (27.47, 3.1), (27.51, 3.5), (27.56, 3.8), (27.61, 3.5), (27.66, 3.1), (27.7, 2.8), (27.75, 2.8), (27.79, 2.8), (27.84, 2.7), (27.89, 2.4), (27.93, 2.5), (27.98, 2.8), (28.0, 2.7)]

titles = ["Heat demands in January", "Heat demands in October",
          "Environment temperature in January", "Environment temperature in October"]
ylabels = ["Q/kW", "Q/kW", "Temperature/°C", "Temperature/°C"]
xlabel = "Time/day"
x_ticks = list(range(0, 29, 2))
heat_ticks = [40, 80, 120]
temp_ticks = [-5, 0, 5, 10]

# ---------------- figure ----------------
W, H = 1367, 544
FONT = "DejaVu Sans"
LINE = "#1f77b4"

def px_x(p):
    return p / W

def px_y(p):
    return 1 - p / H

panels = [
    # data, ylim, yticks, x-domain px, y-domain px
    (jan_heat, [33.1, 129.1], heat_ticks, (71, 665), (35, 230)),
    (oct_heat, [28.6, 120.05], heat_ticks, (748, 1341), (35, 230)),
    (jan_temp, [-6.5, 13.0], temp_ticks, (71, 665), (305, 500)),
    (oct_temp, [-5.0, 13.37], temp_ticks, (748, 1341), (305, 500)),
]

fig = go.Figure()
layout = dict(
    width=W, height=H,
    margin=dict(l=0, r=0, t=0, b=0),
    paper_bgcolor="white", plot_bgcolor="white",
    showlegend=False,
    font=dict(family=FONT, size=20, color="black"),
    template="none",
)
annotations = []
for i, (series, ylim, yticks, (x0, x1), (y0, y1)) in enumerate(panels):
    k = "" if i == 0 else str(i + 1)
    ts = [p[0] for p in series]
    vs = [p[1] for p in series]
    fig.add_trace(go.Scatter(x=ts, y=vs, mode="lines",
                             line=dict(color=LINE, width=1.4),
                             xaxis="x" + k, yaxis="y" + k, hoverinfo="skip"))
    axis_common = dict(showline=True, linecolor="#333", linewidth=1, mirror=True,
                       ticks="outside", ticklen=5, tickwidth=1, tickcolor="#333",
                       showgrid=False, zeroline=False, automargin=False,
                       tickfont=dict(family=FONT, size=20, color="black"))
    layout["xaxis" + k] = dict(axis_common, domain=[px_x(x0), px_x(x1)], range=[0, 28],
                               tickvals=x_ticks, anchor="y" + k, ticklabelstandoff=-8)
    layout["yaxis" + k] = dict(axis_common, domain=[px_y(y1), px_y(y0)], range=ylim,
                               tickvals=yticks, anchor="x" + k, ticklabelstandoff=-3)
    cx = (x0 + x1) / 2
    cy = (y0 + y1) / 2
    annotations.append(dict(text=titles[i], x=px_x(cx), y=px_y(y0 - 13), xref="paper", yref="paper",
                            xanchor="center", yanchor="middle", showarrow=False,
                            font=dict(family=FONT, size=19, color="black")))
    annotations.append(dict(text=xlabel, x=px_x(cx), y=px_y(y1 + 36), xref="paper", yref="paper",
                            xanchor="center", yanchor="middle", showarrow=False,
                            font=dict(family=FONT, size=19, color="black")))
    annotations.append(dict(text=ylabels[i], x=px_x(x0 - (49 if i < 2 else 44)), y=px_y(cy),
                            xref="paper", yref="paper", textangle=-90,
                            xanchor="center", yanchor="middle", showarrow=False,
                            font=dict(family=FONT, size=19, color="black")))

layout["annotations"] = annotations
fig.update_layout(**layout)
fig.write_html("out.html", config={"displayModeBar": False, "staticPlot": True},
               post_script="document.body.style.margin='0';document.body.style.padding='0';document.body.style.overflow='hidden';")
